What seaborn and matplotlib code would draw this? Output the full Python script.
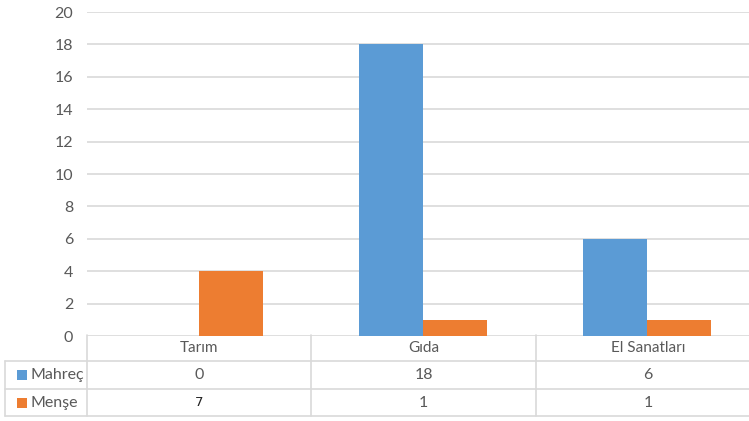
import matplotlib
matplotlib.use("Agg")
import matplotlib.pyplot as plt
import pandas as pd
import seaborn as sns
from matplotlib.lines import Line2D
from matplotlib.patches import Rectangle

categories = ["Tarım", "Gıda", "El Sanatları"]
series_names = ["Mahreç", "Menşe"]
mahrec_values = [0, 18, 6]
mense_values = [4, 1, 1]
# values as printed in the data table under the chart (Tarım/Menşe differs from its bar)
mahrec_table = ["0", "18", "6"]
mense_table = ["7", "1", "1"]
y_ticks = list(range(0, 21, 2))
colors = ["#5B9BD5", "#ED7D31"]

W, H = 749, 421
TEXT = "#595959"
LINE = "#d9d9d9"

sns.set_theme(style="white")
plt.rcParams["font.family"] = ["Lato", "DejaVu Sans"]

df = pd.DataFrame({
    "category": categories * 2,
    "series": [series_names[0]] * 3 + [series_names[1]] * 3,
    "value": mahrec_values + mense_values,
})


def fx(x):
    return x / W


def fy(y):
    return 1 - y / H


fig = plt.figure(figsize=(W / 100, H / 100), dpi=100)
ax = fig.add_axes([fx(87), fy(336), 672 / W, 324 / H])

sns.barplot(data=df, x="category", y="value", hue="series", order=categories,
            hue_order=series_names, palette=colors, width=0.57, gap=0,
            saturation=1, legend=False, linewidth=0, ax=ax)

ax.set_xlim(-0.5, 2.5)
ax.set_ylim(0, 20)
ax.set_yticks(y_ticks)
ax.set_xticks([])
ax.set_xlabel("")
ax.set_ylabel("")
for s in ax.spines.values():
    s.set_visible(False)
ax.yaxis.grid(True, color=LINE, lw=1.2)
ax.set_axisbelow(True)
ax.tick_params(axis="y", length=0, pad=10, labelsize=11.5, labelcolor=TEXT)

# data table below the plot
col_edges = [87, 311, 536, 760]
row_y = [348, 375, 403]


def hline(y, x0, x1):
    fig.add_artist(Line2D([fx(x0), fx(x1)], [fy(y), fy(y)], color=LINE, lw=1.2))


def vline(x, y0, y1):
    fig.add_artist(Line2D([fx(x), fx(x)], [fy(y0), fy(y1)], color=LINE, lw=1.2))


hline(361, 5, W)
hline(389, 5, W)
hline(416, 5, W)
vline(5, 361, 416)
for x in col_edges[:-1]:
    vline(x, 335, 416)

for i, cat in enumerate(categories):
    cx = (col_edges[i] + col_edges[i + 1]) / 2
    fig.text(fx(cx), fy(row_y[0]), cat, ha="center", va="center",
             fontsize=11, color=TEXT)
    fig.text(fx(cx), fy(row_y[1]), mahrec_table[i], ha="center", va="center",
             fontsize=11.5, color=TEXT)
    if i == 0:
        fig.text(fx(cx), fy(row_y[2] - 1), mense_table[i], ha="center", va="center",
                 fontsize=9.5, color="#222222", family="DejaVu Sans")
    else:
        fig.text(fx(cx), fy(row_y[2]), mense_table[i], ha="center", va="center",
                 fontsize=11.5, color=TEXT)

for name, color, y in zip(series_names, colors, row_y[1:]):
    fig.add_artist(Rectangle((fx(17), fy(y + 5)), 10 / W, 10 / H,
                             transform=fig.transFigure, color=color, lw=0))
    fig.text(fx(30), fy(y), name, ha="left", va="center", fontsize=11.5, color=TEXT)

fig.savefig("out.png", dpi=100)
